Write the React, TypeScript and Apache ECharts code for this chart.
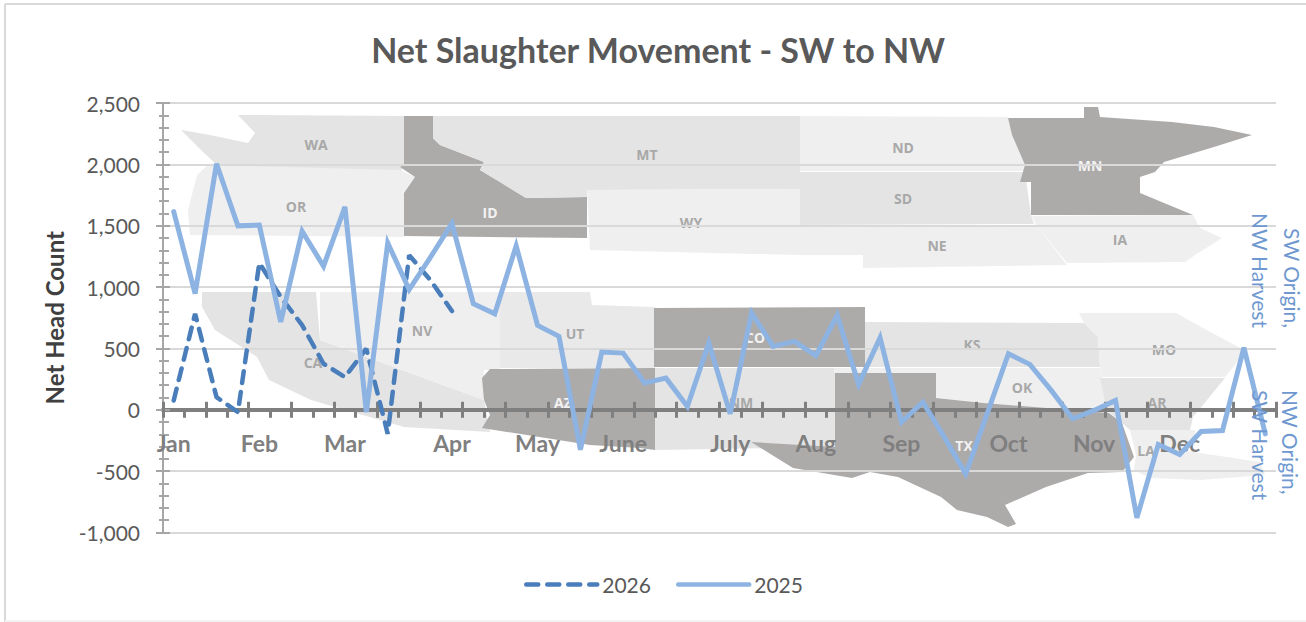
import React, { useEffect, useRef } from "react";
import * as echarts from "echarts";

const FONT = "Lato";
const weekLabels = ["Jan","","","","Feb","","","","Mar","","","","","Apr","","","","May","","","","June","","","","","July","","","","Aug","","","","Sep","","","","","Oct","","","","Nov","","","","Dec","","","",""];
const values2026 = [76,783,103,-19,1197,920,690,375,267,498,-196,1260,1055,805];
const values2025 = [1615,947,2005,1499,1505,715,1455,1170,1654,-20,1360,980,1245,1518,865,783,1336,688,598,-326,470,462,218,258,27,544,-33,789,517,558,441,770,207,588,-100,63,-223,-522,-33,457,370,158,-73,-5,76,-881,-283,-365,-177,-169,506,-196];
const yTicks = { min: -1000, max: 2500, interval: 500 };

const LIGHT = "#efefef", MID = "#e4e4e4", DARK = "#adaaaa";
const states: [string, number[][]][] = [
  [MID, [[238,115],[404,116],[404,165],[400,173],[244,170],[219,167],[198,147],[181,130],[210,135],[248,143],[255,133]]],
  [LIGHT, [[208,165],[400,170],[415,177],[404,193],[404,237],[190,235],[188,210],[197,175]]],
  [DARK, [[404,116],[433,116],[433,138],[440,145],[484,162],[480,170],[500,182],[526,198],[587,197],[587,238],[404,236],[404,193],[415,177],[400,167],[404,165]]],
  [MID, [[433,116],[800,116],[800,189],[587,190],[587,197],[526,198],[500,182],[480,170],[484,162],[440,145],[433,138]]],
  [LIGHT, [[587,190],[800,189],[800,255],[590,250]]],
  [LIGHT, [[800,116],[1008,117],[1012,135],[1025,165],[1025,171],[800,171]]],
  [MID, [[800,172],[1025,172],[1031,215],[1034,224],[800,225]]],
  [LIGHT, [[800,226],[1036,225],[1067,265],[863,268],[863,255],[800,255]]],
  [LIGHT, [[1032,216],[1193,215],[1200,228],[1222,238],[1195,255],[1185,262],[1067,263],[1036,225]]],
  [DARK, [[1008,118],[1084,118],[1084,107],[1098,107],[1100,117],[1172,122],[1214,127],[1252,135],[1214,147],[1164,162],[1155,172],[1140,177],[1140,193],[1193,215],[1031,215],[1031,182],[1020,182],[1025,165],[1012,135]]],
  [MID, [[202,292],[316,292],[320,340],[484,400],[490,432],[404,427],[311,400],[269,380],[257,357],[215,330],[202,307]]],
  [LIGHT, [[320,292],[500,292],[500,370],[484,370],[484,400],[320,340]]],
  ["#e9e9e9", [[500,292],[590,292],[592,305],[655,307],[655,368],[500,368]]],
  [MID, [[655,368],[835,368],[835,447],[655,450]]],
  [DARK, [[490,369],[655,368],[655,450],[640,448],[590,445],[482,428],[490,415],[484,400],[482,378]]],
  [DARK, [[654,308],[865,307],[865,367],[654,367]]],
  [MID, [[865,322],[1084,323],[1098,337],[1100,367],[865,367]]],
  [LIGHT, [[834,368],[1100,368],[1109,413],[983,403],[936,398],[936,373],[834,373]]],
  [LIGHT, [[1079,313],[1176,313],[1201,327],[1244,350],[1235,365],[1225,377],[1102,377],[1100,367],[1098,337],[1084,323]]],
  [MID, [[1100,378],[1225,378],[1193,417],[1190,430],[1130,430],[1122,423],[1107,410]]],
  [LIGHT, [[1130,430],[1195,430],[1195,445],[1180,450],[1260,462],[1265,475],[1200,480],[1150,478],[1134,470],[1136,455]]],
  [DARK, [[835,373],[936,373],[936,398],[983,403],[1109,413],[1122,423],[1134,457],[1122,472],[1088,473],[1046,487],[1005,505],[1016,524],[1008,527],[987,517],[957,510],[941,497],[898,477],[870,472],[852,478],[793,468],[751,442],[835,447]]],
];
const stateLabels: [string, number, number, boolean][] = [
  ["WA",316,144,false],["OR",296,206,false],["MT",647,154,false],["ND",903,147,false],["SD",903,198,false],["WY",691,222,false],["NE",937,245,false],["IA",1120,239,false],
  ["MN",1090,165,true],["ID",490,212,true],["NV",422,330,false],["CA",313,362,false],["UT",575,333,false],["CO",755,337,true],["KS",972,344,false],["MO",1164,349,false],
  ["OK",1022,387,false],["AR",1157,402,false],["LA",1146,450,false],["AZ",563,402,true],["NM",741,402,false],["TX",964,445,true],
];

export default function App() {
  const ref = useRef<HTMLDivElement>(null);
  useEffect(() => {
    const chart = echarts.init(ref.current!, undefined, { renderer: "svg" });
    const side = (text: string, x: number, y: number, align: string) => ({
      type: "text", x, y, rotation: -Math.PI / 2, z: 50,
      style: { text, fill: "#6f98d0", font: `21px ${FONT}`, textAlign: align, textVerticalAlign: "middle" },
    });
    const frame = (x1: number, y1: number, x2: number, y2: number, stroke: string) => ({
      type: "line", z: -20, shape: { x1, y1, x2, y2 }, style: { stroke, lineWidth: 2 },
    });
    const xBase = { type: "category", data: weekLabels };
    chart.setOption({
      animation: false,
      backgroundColor: "#ffffff",
      title: {
        text: "Net Slaughter Movement - SW to NW", left: 653, top: 27, textAlign: "center",
        textStyle: { fontFamily: FONT, fontSize: 34, fontWeight: "bold", color: "#595959" },
      },
      legend: {
        left: 519, top: 569, itemWidth: 71, itemHeight: 0.1, itemGap: 25,
        lineStyle: { width: 4.5 },
        textStyle: { fontFamily: FONT, fontSize: 21, color: "#595959" },
        data: ["2026", "2025"],
      },
      grid: { left: 163, right: 30, top: 103, bottom: 89.5 },
      xAxis: [
        {
          ...xBase, position: "bottom",
          axisLine: { onZero: true, lineStyle: { color: "#7f7f7f", width: 4 } },
          axisTick: { show: true, length: 8, lineStyle: { color: "#7f7f7f", width: 3 } },
          axisLabel: { interval: 0, margin: -101, fontFamily: FONT, fontSize: 23, fontWeight: "bold", color: "#7f7f7f" },
        },
        {
          ...xBase, position: "top",
          axisLine: { onZero: true, lineStyle: { color: "#7f7f7f", width: 4 } },
          axisTick: { show: true, length: 8, lineStyle: { color: "#7f7f7f", width: 3 } },
          axisLabel: { show: false },
        },
      ],
      yAxis: [
        {
          type: "value", ...yTicks, position: "left",
          name: "Net Head Count", nameLocation: "middle", nameGap: 97, nameRotate: 90,
          nameTextStyle: { fontFamily: FONT, fontSize: 24, fontWeight: "bold", color: "#404040" },
          axisLine: { show: true, lineStyle: { color: "#a6a6a6", width: 2 } },
          axisTick: { show: true, length: 7, lineStyle: { color: "#a6a6a6", width: 2 } },
          minorTick: { show: true, splitNumber: 5, length: 4, lineStyle: { color: "#a6a6a6", width: 2 } },
          splitLine: { show: true, lineStyle: { color: "#d9d9d9", width: 2 } },
          axisLabel: { margin: 23, fontFamily: FONT, fontSize: 21, color: "#595959", formatter: (v: number) => v.toLocaleString("en-US") },
        },
        {
          type: "value", ...yTicks, position: "left",
          axisLine: { show: false },
          axisTick: { show: true, inside: true, length: 7, lineStyle: { color: "#a6a6a6", width: 2 } },
          minorTick: { show: true, splitNumber: 5, length: 6, lineStyle: { color: "#a6a6a6", width: 2 } },
          splitLine: { show: false },
          axisLabel: { show: false },
        },
      ],
      graphic: [
        frame(5, 4, 1306, 4, "#d9d9d9"),
        frame(5, 4, 5, 622, "#d9d9d9"),
        frame(5, 621, 1306, 621, "#f2f2f2"),
        ...states.map(([fill, points]) => ({ type: "polygon", z: -10, shape: { points }, style: { fill } })),
        ...stateLabels.map(([text, x, y, light]) => ({
          type: "text", x, y, z: -5,
          style: { text, fill: light ? "#f2f2f2" : "#a8a8a8", font: `bold 14px "Open Sans"`, textAlign: "center", textVerticalAlign: "middle" },
        })),
        side("SW Origin,", 1292, 328, "right"),
        side("NW Harvest", 1260, 328, "right"),
        side("NW Origin,", 1290, 390, "left"),
        side("SW Harvest", 1260, 390, "left"),
      ],
      series: [
        {
          name: "2026", type: "line", data: values2026, symbol: "none", z: 3,
          lineStyle: { color: "#4a7ebb", width: 4.5, type: [12, 9], cap: "round" },
          itemStyle: { color: "#4a7ebb" },
        },
        {
          name: "2025", type: "line", data: values2025, symbol: "none", z: 4,
          lineStyle: { color: "#8db3e2", width: 5, cap: "round", join: "miter" },
          itemStyle: { color: "#8db3e2" },
        },
      ],
    });
    return () => chart.dispose();
  }, []);
  return <div ref={ref} style={{ position: "fixed", left: 0, top: 0, width: 1306, height: 622 }} />;
}
